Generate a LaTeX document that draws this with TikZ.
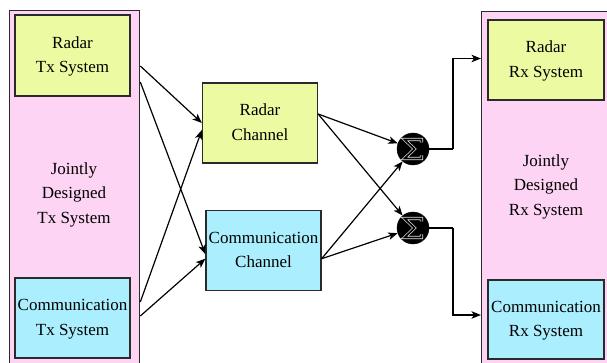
\documentclass[tikz,border=0pt]{standalone}
\usepackage{fontspec}
\setmainfont{Liberation Serif}
\usetikzlibrary{arrows.meta,calc}
\definecolor{jointpink}{HTML}{FDD4F3}
\definecolor{radaryellow}{HTML}{ECFBA2}
\definecolor{commblue}{HTML}{ABEEFD}
\definecolor{edgegray}{HTML}{2A2A2A}
\tikzset{
  outerbox/.style={draw=edgegray,line width=1.3pt,fill=jointpink,rectangle,inner sep=0pt},
  innerbox/.style={draw=edgegray,line width=1.3pt,rectangle,inner sep=0pt,
    font=\rmfamily\fontsize{17}{24.5}\selectfont},
  framelabel/.style={align=center,font=\rmfamily\fontsize{17}{24.5}\selectfont,yshift=-2.5pt},
  sumnode/.style={circle,fill=black,draw=black,minimum size=32pt,inner sep=0pt},
  conn/.style={line width=1.2pt,-{Stealth[length=9.5pt,width=7.5pt,inset=2.5pt]}},
  plain/.style={line width=1.2pt},
  sigma/.style={draw=white!80!gray,double=black,double distance=1.7pt,line width=0.7pt,line join=miter},
}
% two centred lines, set a little below the box centre
\newcommand{\boxtext}[1]{\raisebox{-3pt}{\begin{tabular}{@{}c@{}}#1\end{tabular}}}
\begin{document}
\begin{tikzpicture}[x=1pt,y=-1pt]
\useasboundingbox (0,0) rectangle (607,363);
\clip (0,0) rectangle (607,363);
% outer transmitter / receiver frames (they run past the page edges)
\node[outerbox,minimum width=130pt,minimum height=420pt,anchor=north west] (txouter) at (9,10) {};
\node[outerbox,minimum width=160pt,minimum height=420pt,anchor=north west] (rxouter) at (481,11) {};
\node[framelabel] (txlabel) at (74,192) {Jointly\\Designed\\Tx System};
\node[framelabel] (rxlabel) at (546,184) {Jointly\\Designed\\Rx System};
% transmitter subsystems
\node[innerbox,fill=radaryellow,minimum width=115pt,minimum height=81pt] (radartx) at (72.5,55.5) {\boxtext{Radar\\Tx System}};
\node[innerbox,fill=commblue,minimum width=115pt,minimum height=80pt] (commtx) at (72.5,318) {\boxtext{Communication\\Tx System}};
% receiver subsystems
\node[innerbox,fill=radaryellow,minimum width=116pt,minimum height=80pt] (radarrx) at (546,60) {\boxtext{Radar\\Rx System}};
\node[innerbox,fill=commblue,minimum width=116pt,minimum height=79pt] (commrx) at (546,319.5) {\boxtext{Communication\\Rx System}};
% channels
\node[innerbox,fill=radaryellow,minimum width=115pt,minimum height=80pt] (radarch) at (260,123) {\boxtext{Radar\\Channel}};
\node[innerbox,fill=commblue,minimum width=115pt,minimum height=80pt] (commch) at (263.5,250.7) {\boxtext{Communication\\Channel}};
% summing junctions with hollow sigma glyphs
\node[sumnode] (sum1) at (413,149) {};
\node[sumnode] (sum2) at (413,228) {};
\foreach \s in {sum1,sum2}{
  \draw[sigma]
    ($(\s)+(8.5,-6.5)$) -- ($(\s)+(8.5,-9.5)$) -- ($(\s)+(-8.5,-9.5)$) -- ($(\s)+(1.5,0)$)
    -- ($(\s)+(-8.5,9.5)$) -- ($(\s)+(8.5,9.5)$) -- ($(\s)+(8.5,6.5)$);
}
% transmitters to channels
\draw[conn] ([yshift=-10.5pt]radartx.east -| txouter.east) -- ([yshift=0pt]radarch.west);
\draw[conn] ([yshift=-26.5pt]radartx.east -| txouter.east) -- ([yshift=-3.5pt]commch.west);
\draw[conn] ([yshift=16pt]commtx.east -| txouter.east) -- ([yshift=-7pt]radarch.west);
\draw[conn] ([yshift=2pt]commtx.east -| txouter.east) -- ([yshift=-8pt]commch.west);
% channels to summing junctions
\draw[conn] ([yshift=9pt]radarch.east) -- (sum1);
\draw[conn] ([yshift=9pt]radarch.east) -- (sum2);
\draw[conn] ([yshift=-8pt]commch.east) -- (sum1);
\draw[conn] ([yshift=-8pt]commch.east) -- (sum2);
% junctions to receivers
\coordinate (turn1) at (453,149);
\coordinate (turn2) at (453,228);
\draw[plain] (sum1.east) -- (turn1);
\draw[conn] (turn1) |- ([yshift=1.5pt]radarrx.west -| rxouter.west);
\draw[plain] (sum2.east) -- (turn2);
\draw[conn] (turn2) |- ([yshift=4.5pt]commrx.west -| rxouter.west);
\end{tikzpicture}
\end{document}
